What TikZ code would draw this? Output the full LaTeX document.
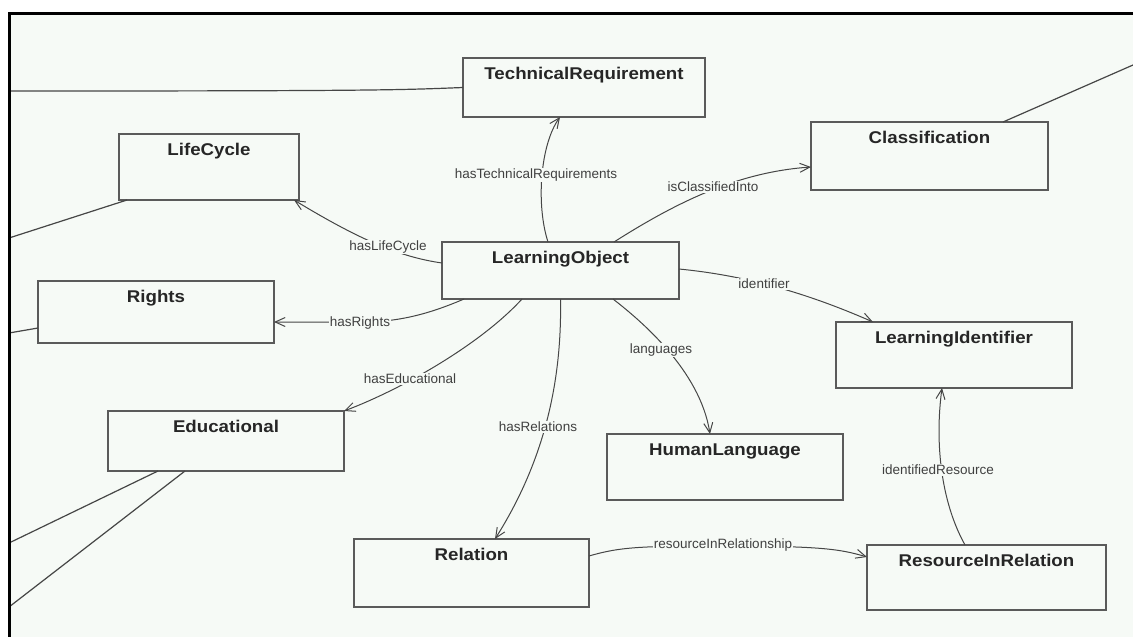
\documentclass[tikz,border=0pt]{standalone}
\usepackage{fontspec}
\setmainfont{Liberation Sans}
\newfontfamily\boxfont[FakeStretch=1.1]{Liberation Sans}
\usetikzlibrary{arrows.meta}
\definecolor{bg}{RGB}{246,250,246}
\definecolor{boxline}{RGB}{90,90,90}
\definecolor{edgeline}{RGB}{70,70,70}
\newcommand\umlbox[6]{%
  \node[box, minimum width=#4pt, minimum height=#5pt] (#1) at (#2,#3) {};
  \node[btxt, yshift=-21pt] (#1-t) at (#1.north) {#6};}
\begin{document}
\begin{tikzpicture}[x=1pt,y=-1pt,
  box/.style={draw=boxline, line width=1.5pt, fill=bg, inner sep=0pt, outer sep=0pt, anchor=north west},
  btxt/.style={font=\boxfont\bfseries\fontsize{17}{20}\selectfont, text=black!85, anchor=base, inner sep=0pt},
  edge/.style={draw=edgeline, line width=1pt, -{Straight Barb[length=10pt,width=9pt]}},
  wire/.style={draw=edgeline, line width=1.2pt},
  lbl/.style={font=\fontsize{13.5}{15}\selectfont, text=black!75, fill=bg, inner sep=1pt}]
\useasboundingbox (0,0) rectangle (1133,637);
\fill[white] (0,0) rectangle (1133,637);
\fill[bg] (9,13) rectangle (1133,637);

% boxes
\umlbox{tr}{463}{58}{242}{59}{TechnicalRequirement}
\umlbox{lc}{119}{134}{180}{66}{LifeCycle}
\umlbox{cl}{811}{122}{237}{68}{Classification}
\umlbox{lo}{442}{242}{237}{57}{LearningObject}
\umlbox{ri}{38}{281}{236}{62}{Rights}
\umlbox{ed}{108}{411}{236}{60}{Educational}
\umlbox{li}{836}{322}{236}{66}{LearningIdentifier}
\umlbox{hl}{607}{434}{236}{66}{HumanLanguage}
\umlbox{re}{354}{539}{235}{68}{Relation}
\umlbox{rr}{867}{545}{239}{65}{ResourceInRelation}

% frame-side coordinates
\coordinate (f-tr) at (9,91);
\coordinate (f-lc) at (9,238);
\coordinate (f-ri) at (9,333);
\coordinate (f-ed1) at (9,543);
\coordinate (f-ed2) at (9,607);
\coordinate (f-cl) at (1133,65);

% wires leaving the frame
\draw[wire] (tr.west) .. controls (400,90) and (380,91) .. (f-tr);
\draw[wire] ([xshift=8pt]lc.south west) -- (f-lc);
\draw[wire] ([yshift=-16pt]ri.west) -- (f-ri);
\draw[wire] ([xshift=50pt]ed.south west) -- (f-ed1);
\draw[wire] ([xshift=77pt]ed.south west) -- (f-ed2);
\draw[wire] ([xshift=-45pt]cl.north east) -- (f-cl);

% edges
\draw[edge] ([xshift=-12.5pt]lo.north) .. controls (536,205) and (540,145) .. ([xshift=-24pt]tr.south);
\draw[edge] ([yshift=7.5pt]lo.west) .. controls (400,257) and (360,240) .. ([xshift=-5pt]lc.south east);
\draw[edge] ([xshift=53.5pt]lo.north) .. controls (680,200) and (740,172) .. ([yshift=-11pt]cl.west);
\draw[edge] ([yshift=1.5pt]lo.east) .. controls (740,275) and (800,290) .. ([xshift=-81pt]li.north);
\draw[edge] ([xshift=52.5pt]lo.south) .. controls (640,320) and (700,370) .. ([xshift=-15pt]hl.north);
\draw[edge] (lo.south) .. controls (562,380) and (545,460) .. ([xshift=23.5pt]re.north);
\draw[edge] ([xshift=-38.5pt]lo.south) .. controls (480,345) and (400,390) .. (ed.north east);
\draw[edge] ([xshift=-96.5pt]lo.south) .. controls (420,318) and (390,322) .. (360,322) -- ([yshift=-10pt]ri.east);
\draw[edge] ([yshift=17pt]re.east) .. controls (620,547) and (640,546) .. (723,546) .. controls (820,546) and (840,549) .. ([yshift=20.5pt]rr.west);
\draw[edge] ([xshift=-21.5pt]rr.north) .. controls (940,500) and (935,440) .. ([xshift=-12pt]li.south);

% labels
\node[lbl] (l-tr) at (536,175) {hasTechnicalRequirements};
\node[lbl] (l-lc) at (388,247) {hasLifeCycle};
\node[lbl] (l-cl) at (713,187) {isClassifiedInto};
\node[lbl] (l-li) at (764,284) {identifier};
\node[lbl] (l-hl) at (661,350) {languages};
\node[lbl] (l-re) at (538,427) {hasRelations};
\node[lbl] (l-ed) at (410,379) {hasEducational};
\node[lbl] (l-ri) at (360,323) {hasRights};
\node[lbl] (l-rr) at (723,545) {resourceInRelationship};
\node[lbl] (l-id) at (938,470) {identifiedResource};

% frame
\draw[line width=3pt] (9,637) -- (9,13) -- (1133,13);
\end{tikzpicture}
\end{document}
